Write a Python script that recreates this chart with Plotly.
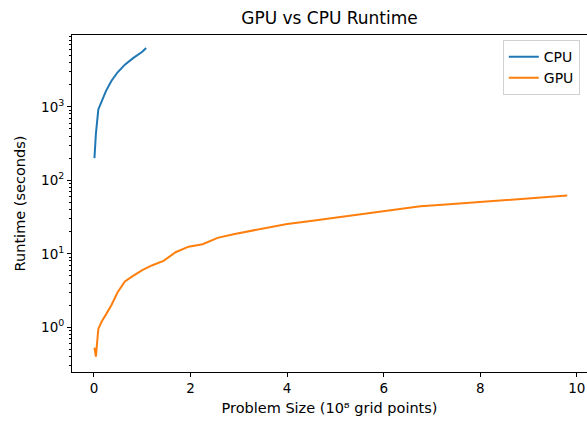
import plotly.graph_objects as go

# Problem size (1e8 grid points) and runtimes (seconds)
cpu_x = [0.01, 0.04, 0.09, 0.16, 0.25, 0.36, 0.49, 0.64, 0.81, 1.0, 1.08]
cpu_y = [200, 430, 920, 1200, 1650, 2250, 2950, 3750, 4600, 5600, 6300]

gpu_x = [0.01, 0.04, 0.09, 0.16, 0.25, 0.36, 0.49, 0.64, 0.81, 1.0, 1.21, 1.44,
         1.69, 1.96, 2.25, 2.56, 2.89, 3.24, 3.61, 4.0, 4.41, 4.84, 5.29, 5.76,
         6.25, 6.76, 7.29, 7.84, 8.41, 9.0, 9.8]
gpu_y = [0.53, 0.40, 0.95, 1.2, 1.5, 2.0, 3.0, 4.2, 5.0, 6.0, 7.0, 8.0,
         10.5, 12.5, 13.5, 16.5, 18.5, 20.5, 23.0, 25.5, 27.5, 30.0, 33.0, 36.5,
         40.0, 44.5, 47.0, 50.0, 54.0, 57.0, 62.0]

x_ticks = [0, 2, 4, 6, 8, 10]
y_ticks = [1, 10, 100, 1000]
y_ticktext = ["10<sup>0</sup>", "10<sup>1</sup>", "10<sup>2</sup>", "10<sup>3</sup>"]
y_minor = [k * 10.0 ** e for e in range(-1, 4) for k in range(2, 10)]

fig = go.Figure()
fig.add_trace(go.Scatter(x=cpu_x, y=cpu_y, mode="lines", name="CPU",
                         line=dict(color="#1f77b4", width=2)))
fig.add_trace(go.Scatter(x=gpu_x, y=gpu_y, mode="lines", name="GPU",
                         line=dict(color="#ff7f0e", width=2)))

fig.update_layout(
    width=587, height=422,
    margin=dict(l=72, r=0, t=35, b=50),
    plot_bgcolor="white", paper_bgcolor="white",
    font=dict(family="DejaVu Sans", size=14, color="black"),
    title=dict(text="GPU vs CPU Runtime", x=0.5, xref="paper", xanchor="center",
               y=1 - 18 / 422, yref="container", yanchor="middle",
               font=dict(size=17, color="black")),
    legend=dict(x=0.986, y=0.985, xanchor="right", yanchor="top",
                bgcolor="white", bordercolor="#d0d0d0", borderwidth=1,
                font=dict(size=14)),
    showlegend=True,
)

fig.update_xaxes(
    range=[-0.455, 10.21], tickvals=x_ticks, ticktext=[str(v) for v in x_ticks],
    showgrid=False, zeroline=False,
    showline=True, linecolor="black", linewidth=1, mirror=True,
    ticks="outside", ticklen=4, tickwidth=1, tickcolor="black",
    tickfont=dict(size=13.5),
    title=dict(text="Problem Size (10⁸ grid points)", standoff=7, font=dict(size=14.5)),
)
fig.update_yaxes(
    type="log", range=[-0.608, 3.977],
    tickvals=y_ticks, ticktext=y_ticktext,
    showgrid=False, zeroline=False,
    showline=True, linecolor="black", linewidth=1,
    ticks="outside", ticklen=4, tickwidth=1, tickcolor="black",
    tickfont=dict(size=13.5),
    minor=dict(tickvals=y_minor, ticks="outside", ticklen=2, tickwidth=1,
               tickcolor="black", showgrid=False),
    title=dict(text="Runtime (seconds)", standoff=12, font=dict(size=14.5)),
)

fig.write_html("out.html")
